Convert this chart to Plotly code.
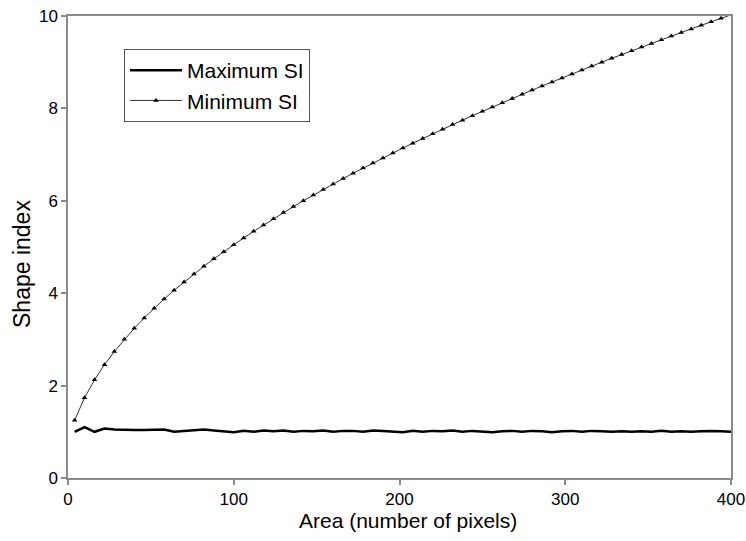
import plotly.graph_objects as go

area = [4, 10, 16, 22, 28, 34, 40, 46, 52, 58, 64, 70, 76, 82, 88, 94, 100,
        106, 112, 118, 124, 130, 136, 142, 148, 154, 160, 166, 172, 178, 184, 190, 196,
        202, 208, 214, 220, 226, 232, 238, 244, 250, 256, 262, 268, 274, 280, 286, 292, 298,
        304, 310, 316, 322, 328, 334, 340, 346, 352, 358, 364, 370, 376, 382, 388, 394, 400]

min_si = [1.25, 1.739, 2.125, 2.452, 2.740, 3.001, 3.241, 3.465, 3.675, 3.874, 4.063,
          4.243, 4.416, 4.583, 4.744, 4.899, 5.05, 5.196, 5.339, 5.477, 5.613, 5.745,
          5.874, 6.000, 6.124, 6.245, 6.364, 6.481, 6.596, 6.708, 6.819, 6.928, 7.036,
          7.142, 7.246, 7.349, 7.450, 7.550, 7.649, 7.746, 7.842, 7.937, 8.031, 8.124,
          8.216, 8.307, 8.396, 8.485, 8.573, 8.660, 8.746, 8.832, 8.916, 9.000, 9.083,
          9.165, 9.247, 9.327, 9.407, 9.487, 9.566, 9.644, 9.721, 9.798, 9.874, 9.950, 10.025]

max_si = [1.00, 1.10, 1.00, 1.07, 1.05, 1.04, 1.04, 1.04, 1.05, 1.05, 1.00, 1.02, 1.04,
          1.05, 1.03, 1.01, 0.99, 1.02, 1.00, 1.03, 1.01, 1.03, 1.00, 1.02, 1.01, 1.03,
          1.00, 1.02, 1.02, 1.00, 1.03, 1.02, 1.00, 0.99, 1.02, 1.00, 1.02, 1.01, 1.03,
          1.00, 1.02, 1.01, 0.99, 1.01, 1.02, 1.00, 1.02, 1.01, 0.99, 1.01, 1.02, 1.00,
          1.02, 1.01, 1.00, 1.01, 1.00, 1.01, 1.00, 1.02, 1.00, 1.01, 1.00, 1.01, 1.02,
          1.01, 1.00]

x_ticks = [0, 100, 200, 300, 400]
y_ticks = [0, 2, 4, 6, 8, 10]

x_title = "Area (number of pixels)"
y_title = "Shape index"

FONT = "Liberation Sans, Arial, sans-serif"
AXIS_COL = "#8a8a8a"

fig = go.Figure()
fig.add_trace(go.Scatter(
    x=area, y=max_si, mode="lines", name="Maximum SI",
    line=dict(color="black", width=2.5),
))
fig.add_trace(go.Scatter(
    x=area, y=min_si, mode="lines+markers", name="Minimum SI",
    line=dict(color="#333333", width=1),
    marker=dict(symbol="triangle-up", size=5, color="black"),
))

axis_common = dict(
    showgrid=False, zeroline=False, showline=True, linecolor=AXIS_COL, linewidth=1.5,
    mirror=True, ticks="outside", tickcolor=AXIS_COL, ticklen=5, tickwidth=1.5,
    tickfont=dict(family=FONT, size=17, color="black"), automargin=False,
    ticklabeloverflow="allow",
)

fig.update_layout(
    width=746, height=541,
    margin=dict(l=68, r=15, t=16, b=63),
    paper_bgcolor="white", plot_bgcolor="white",
    font=dict(family=FONT, color="black"),
    showlegend=True,
    legend=dict(
        x=0.0845, y=0.9286, xanchor="left", yanchor="top",
        bordercolor="#555555", borderwidth=1, bgcolor="white",
        font=dict(family=FONT, size=21, color="black"),
        tracegroupgap=0, itemwidth=52,
    ),
    annotations=[
        dict(text=x_title, xref="paper", yref="paper", x=0.5128, y=-0.093,
             xanchor="center", yanchor="middle", showarrow=False,
             font=dict(family=FONT, size=21, color="black")),
        dict(text=y_title, xref="paper", yref="paper", x=-0.0694, y=0.4632,
             xanchor="center", yanchor="middle", showarrow=False, textangle=-90,
             font=dict(family=FONT, size=23, color="black")),
    ],
)
fig.update_xaxes(range=[0, 400], tickvals=x_ticks, **axis_common)
fig.update_yaxes(range=[0, 10], tickvals=y_ticks, **axis_common)

fig.write_html(
    "out.html",
    config={"displayModeBar": False},
    post_script="document.body.style.margin='0';document.body.style.overflow='hidden';",
)
